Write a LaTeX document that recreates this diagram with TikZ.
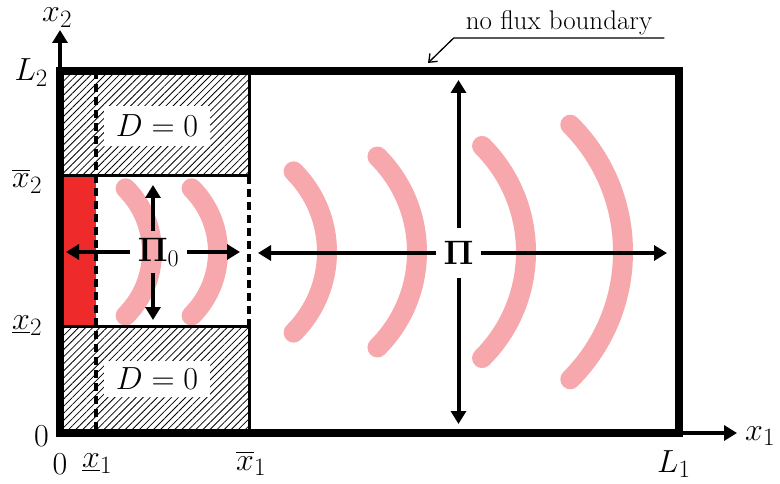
\RequirePackage{fix-cm}
\documentclass[tikz,border=0pt]{standalone}
\usepackage{amsmath}
\usetikzlibrary{arrows.meta,patterns.meta}
\DeclareMathSizes{32}{32}{25}{18}
\DeclareMathSizes{34}{34}{24}{17}
\definecolor{wave}{RGB}{247,168,172}
\definecolor{src}{RGB}{238,42,42}
\begin{document}
\begin{tikzpicture}[x=1pt,y=-1pt,
  lab/.style={font=\fontsize{32}{38}\selectfont, inner sep=0pt},
  pilab/.style={font=\fontsize{34}{40}\selectfont, inner sep=0pt},
  hatch/.style={pattern={Lines[angle=45,distance=5pt,line width=0.8pt]}},
  thinwall/.style={line width=3pt},
  dashwall/.style={line width=3.5pt, dash pattern=on 8pt off 5pt},
  boundarybox/.style={line width=8pt},
  wavearc/.style={wave, line width=20pt, line cap=round},
  arr/.style={line width=4pt, -{Triangle[length=13pt,width=15pt]}},
  axisarr/.style={line width=4.5pt, -{Triangle[length=13pt,width=15pt]}},
  ]
\useasboundingbox (0,0) rectangle (780,484);
% corner coordinates
\coordinate (BL) at (60,433);
\coordinate (TL) at (60,71);
\coordinate (TR) at (679,71);
\coordinate (BR) at (679,433);
% hatched zones
\fill[hatch] (60,71) rectangle (249,176);
\fill[hatch] (60,326) rectangle (249,433);
% source
\fill[src] (60,176) rectangle (96,326);
% D=0 labels
\node[lab, fill=white, inner xsep=12pt, inner ysep=9pt] (d1) at (157,126) {$D=0$};
\node[lab, fill=white, inner xsep=12pt, inner ysep=7pt] (d2) at (157,379) {$D=0$};
% waves
\foreach \cx/\r in {62/90, 128/90, 213/114, 282/135, 376/150, 443/180}
  \draw[wavearc] (\cx,252) ++(-45:\r) arc[start angle=-45, end angle=45, radius=\r];
% walls
\draw[thinwall] (60,176) -- (249,176) -- (249,71);
\draw[thinwall] (60,326) -- (249,326) -- (249,433);
\draw[dashwall] (249,176) -- (249,326);
\draw[dashwall] (96,71) -- (96,433);
% domain
\draw[boundarybox] (BL) rectangle (TR);
% axes
\coordinate (x2tip) at (60,30);
\coordinate (x1tip) at (737,433);
\draw[axisarr] (TL) -- (x2tip);
\draw[axisarr] (BR) -- (x1tip);
% axis labels
\node[lab, anchor=base west] (x2) at (42,22) {$x_2$};
\node[lab, anchor=base west] (x1) at (745,440) {$x_1$};
\node[lab, anchor=base east] (L2) at (48,81) {$L_2$};
\node[lab, anchor=base west] (x2o) at (12,188) {$\overline{x}_2$};
\node[lab, anchor=base west] (x2u) at (12,329) {$\underline{x}_2$};
\node[lab, anchor=base east] (zl) at (49,446) {$0$};
\node[lab, anchor=base] (zb) at (60,474) {$0$};
\node[lab, anchor=base west] (x1u) at (82,467) {$\underline{x}_1$};
\node[lab, anchor=base west] (x1o) at (236,470) {$\overline{x}_1$};
\node[lab, anchor=base west] (L1) at (657,472) {$L_1$};
% Pi_0
\node[pilab, minimum width=57pt, minimum height=42pt] (pi0) at (158.5,252) {$\mathbf{\Pi}_0$};
\coordinate (pi0L) at (66,252);
\coordinate (pi0R) at (240,252);
\coordinate (pi0U) at (153,185);
\coordinate (pi0D) at (153,320);
\draw[arr] (pi0.west) -- (pi0L);
\draw[arr] (pi0.east) -- (pi0R);
\draw[arr] (pi0.north -| pi0U) -- (pi0U);
\draw[arr] (pi0.south -| pi0D) -- (pi0D);
% Pi
\node[pilab, minimum width=45pt, minimum height=50pt] (pi) at (458.5,253) {$\mathbf{\Pi}$};
\coordinate (piL) at (258,253);
\coordinate (piR) at (667,253);
\coordinate (piU) at (458.5,80);
\coordinate (piD) at (458.5,424);
\draw[arr] (pi.west) -- (piL);
\draw[arr] (pi.east) -- (piR);
\draw[arr] (pi.north) -- (piU);
\draw[arr] (pi.south) -- (piD);
% no flux boundary
\node[font=\fontsize{27}{32}\selectfont, anchor=south, inner xsep=12pt, inner ysep=2.5pt] (nf) at (559,38) {no flux boundary};
\coordinate (nftip) at (428,63);
\draw[line width=1.3pt, -{Straight Barb[length=7pt,width=11pt]}] (nf.south east) -- (nf.south west) -- (nftip);
\end{tikzpicture}
\end{document}
